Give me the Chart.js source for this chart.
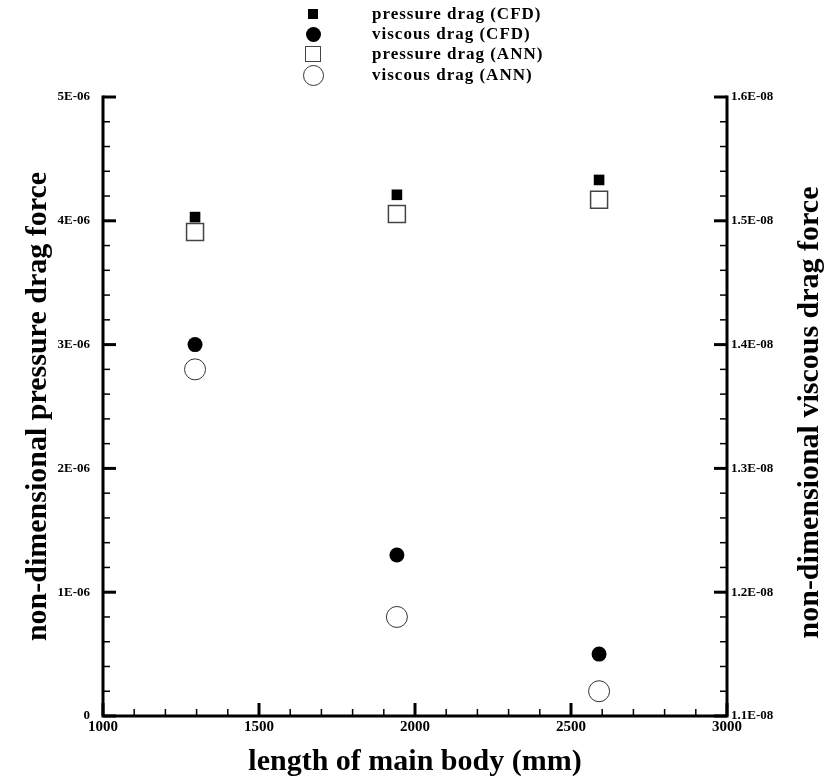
<!DOCTYPE html>
<html lang="en">

<head>
  <meta charset="UTF-8" />
  <title>Drag force vs length of main body</title>
  <script src="https://cdn.jsdelivr.net/npm/chart.js"></script>
  <style>
    body {
      margin: 0;
      background: #fff;
    }

    #wrap {
      position: relative;
      width: 824px;
      height: 779px;
    }

    #grafico {
      position: absolute;
      left: 0;
      top: 0;
    }

    #legenda {
      position: absolute;
      left: 0;
      top: 0;
      font-family: 'Liberation Serif', 'Times New Roman', serif;
      font-weight: bold;
      font-size: 17px;
      letter-spacing: 1px;
      color: #000;
    }

    .marca {
      position: absolute;
      box-sizing: border-box;
    }

    .texto {
      position: absolute;
      left: 372px;
      line-height: 20px;
      white-space: nowrap;
    }
  </style>
</head>

<body>
  <div id="wrap">
    <canvas id="grafico" width="824" height="779"></canvas>
    <div id="legenda"></div>
  </div>

  <script>
    // length of main body (mm)
    const bodyLength = [1295, 1942, 2590];

    // non-dimensional drag, CFD vs ANN
    const pressureCFD = [4.03e-6, 4.21e-6, 4.33e-6];
    const viscousCFD = [1.40e-8, 1.23e-8, 1.15e-8];
    const pressureANN = [3.91e-6, 4.055e-6, 4.17e-6];
    const viscousANN = [1.38e-8, 1.18e-8, 1.12e-8];

    // tick labels
    const xLabels = ['1000', '1500', '2000', '2500', '3000'];
    const leftLabels = ['0', '1E-06', '2E-06', '3E-06', '4E-06', '5E-06'];
    const rightLabels = ['1.1E-08', '1.2E-08', '1.3E-08', '1.4E-08', '1.5E-08', '1.6E-08'];

    const serif = "'Liberation Serif', 'Times New Roman', serif";

    function pontos(ys) {
      return bodyLength.map((x, i) => ({ x: x, y: ys[i] }));
    }

    const series = [
      { label: 'pressure drag (CFD)', data: pontos(pressureCFD), yAxisID: 'y', pointStyle: 'rect', pointRadius: 7.5, backgroundColor: '#000', borderColor: '#000', borderWidth: 0 },
      { label: 'viscous drag (CFD)', data: pontos(viscousCFD), yAxisID: 'y2', pointStyle: 'circle', pointRadius: 7.5, backgroundColor: '#000', borderColor: '#000', borderWidth: 0 },
      { label: 'pressure drag (ANN)', data: pontos(pressureANN), yAxisID: 'y', pointStyle: 'rect', pointRadius: 12, backgroundColor: '#fff', borderColor: '#444', borderWidth: 1.5 },
      { label: 'viscous drag (ANN)', data: pontos(viscousANN), yAxisID: 'y2', pointStyle: 'circle', pointRadius: 10.5, backgroundColor: '#fff', borderColor: '#333', borderWidth: 1 }
    ];

    // legend rows (vertical centre of each row)
    const linhasLegenda = [14, 34, 54, 75];

    const legenda = document.getElementById('legenda');
    series.forEach((s, i) => {
      const cy = linhasLegenda[i];
      const lado = s.pointStyle === 'rect' ? Math.SQRT2 * s.pointRadius : 2 * s.pointRadius;
      const m = document.createElement('div');
      m.className = 'marca';
      m.style.width = lado + 'px';
      m.style.height = lado + 'px';
      m.style.left = (313 - lado / 2) + 'px';
      m.style.top = (cy - lado / 2) + 'px';
      m.style.background = s.backgroundColor;
      m.style.border = s.borderWidth ? s.borderWidth + 'px solid ' + s.borderColor : 'none';
      if (s.pointStyle === 'circle') m.style.borderRadius = '50%';
      legenda.appendChild(m);

      const t = document.createElement('div');
      t.className = 'texto';
      t.style.top = (cy - 10) + 'px';
      t.textContent = s.label;
      legenda.appendChild(t);
    });

    const tickFont = { family: serif, size: 13, weight: 'bold' };
    const titleFont = { family: serif, size: 30, weight: 'bold', lineHeight: 1.1 };

    // axis lines + inward ticks, tecplot style
    const moldura = {
      id: 'moldura',
      afterDraw(chart) {
        const { ctx, chartArea: a, scales } = chart;
        ctx.save();
        ctx.strokeStyle = '#000';
        ctx.lineWidth = 3;
        ctx.lineCap = 'square';
        ctx.beginPath();
        ctx.moveTo(a.left, a.top);
        ctx.lineTo(a.left, a.bottom);
        ctx.lineTo(a.right, a.bottom);
        ctx.lineTo(a.right, a.top);
        ctx.stroke();
        ctx.lineCap = 'butt';

        function risco(x1, y1, x2, y2, w) {
          ctx.lineWidth = w;
          ctx.beginPath();
          ctx.moveTo(x1, y1);
          ctx.lineTo(x2, y2);
          ctx.stroke();
        }

        // x: minor every 100, major every 500
        for (let k = 0; k <= 20; k++) {
          const px = scales.x.getPixelForValue(1000 + k * 100);
          const maior = k % 5 === 0;
          risco(px, a.bottom, px, a.bottom - (maior ? 13 : 7), maior ? 3 : 1.5);
        }
        // left and right: 5 majors, 4 minors between each
        for (let k = 0; k <= 25; k++) {
          const maior = k % 5 === 0;
          const len = maior ? 13 : 7;
          const w = maior ? 3 : 1.5;
          const pl = scales.y.getPixelForValue(k * 0.2e-6);
          risco(a.left, pl, a.left + len, pl, w);
          const pr = scales.y2.getPixelForValue(1.1e-8 + k * 0.02e-8);
          risco(a.right, pr, a.right - len, pr, w);
        }

        // right axis title, reading bottom to top
        ctx.fillStyle = '#000';
        ctx.font = 'bold 30px ' + serif;
        ctx.textAlign = 'center';
        ctx.textBaseline = 'middle';
        ctx.translate(810, (a.top + a.bottom) / 2 + 6);
        ctx.rotate(-Math.PI / 2);
        ctx.fillText('non-dimensional viscous drag force', 0, 0);
        ctx.restore();
      }
    };

    const ctx = document.getElementById('grafico').getContext('2d');
    new Chart(ctx, {
      type: 'scatter',
      data: { datasets: series },
      options: {
        responsive: false,
        animation: false,
        events: [],
        layout: { padding: { top: 97, left: 0, right: 0, bottom: 0 } },
        plugins: {
          legend: { display: false },
          tooltip: { enabled: false }
        },
        scales: {
          x: {
            type: 'linear',
            position: 'bottom',
            min: 1000,
            max: 3000,
            grid: { display: false, drawTicks: false },
            border: { display: false },
            ticks: {
              stepSize: 500,
              padding: 2,
              color: '#000',
              font: { family: serif, size: 15, weight: 'bold' },
              maxRotation: 0,
              callback: (v, i) => xLabels[i]
            },
            title: {
              display: true,
              text: 'length of main body (mm)',
              color: '#000',
              font: titleFont,
              padding: 0
            },
            afterFit(s) { s.height = 63; }
          },
          y: {
            type: 'linear',
            position: 'left',
            min: 0,
            max: 5e-6,
            grid: { display: false, drawTicks: false },
            border: { display: false },
            ticks: {
              stepSize: 1e-6,
              padding: 13,
              color: '#000',
              font: tickFont,
              callback: (v, i) => leftLabels[i]
            },
            title: {
              display: true,
              text: 'non-dimensional pressure drag force',
              color: '#000',
              font: titleFont,
              padding: { top: 22, bottom: 0 }
            },
            afterFit(s) { s.width = 103; }
          },
          y2: {
            type: 'linear',
            position: 'right',
            min: 1.1e-8,
            max: 1.6e-8,
            grid: { display: false, drawTicks: false },
            border: { display: false },
            ticks: {
              stepSize: 1e-9,
              padding: 4,
              color: '#000',
              font: tickFont,
              callback: (v, i) => rightLabels[i]
            },
            afterFit(s) { s.width = 97; }
          }
        }
      },
      plugins: [moldura]
    });
  </script>
</body>

</html>
